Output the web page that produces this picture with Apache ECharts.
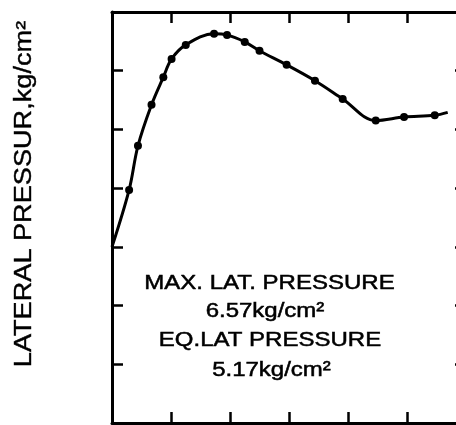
<!DOCTYPE html>
<html>
<head>
<meta charset="utf-8">
<script src="https://cdn.jsdelivr.net/npm/echarts@6/dist/echarts.min.js"></script>
<style>
html,body{margin:0;padding:0;background:#fff;}
#chart{width:456px;height:425px;}
</style>
</head>
<body>
<div id="chart"></div>
<script>
// Data (x in tick units, y in kg/cm2)
var xValues = [0, 0.29, 0.44, 0.67, 0.87, 1.01, 1.25, 1.73, 1.95, 2.25, 2.50, 2.96, 3.44, 3.91, 4.47, 4.95, 5.47, 5.69];
var yValues = [3.0, 3.97, 4.72, 5.42, 5.89, 6.20, 6.44, 6.63, 6.61, 6.49, 6.34, 6.10, 5.83, 5.52, 5.15, 5.21, 5.24, 5.29];
var markerShown = [false, true, true, true, true, true, true, true, true, true, true, true, true, true, true, true, true, false];
var yAxisTitle = 'LATERAL PRESSUR,kg/cm\u00B2';
var noteLines = ['MAX. LAT. PRESSURE', '6.57kg/cm\u00B2', 'EQ.LAT PRESSURE', '5.17kg/cm\u00B2'];
var xRange = [0, 6];
var yRange = [0, 7];

var FONT = '"Liberation Sans", Arial, Helvetica, sans-serif';
var chart = echarts.init(document.getElementById('chart'), null, {renderer: 'canvas'});

var seriesData = xValues.map(function (x, i) {
  var item = {value: [x, yValues[i]]};
  if (!markerShown[i]) { item.symbol = 'none'; }
  return item;
});

function axisCommon(extra) {
  var base = {
    type: 'value',
    axisLine: {show: true, onZero: false, lineStyle: {color: '#000', width: 3}},
    axisTick: {show: true, inside: true, length: 11, lineStyle: {color: '#000', width: 2.5}},
    axisLabel: {show: false},
    splitLine: {show: false}
  };
  for (var k in extra) base[k] = extra[k];
  return base;
}

var notePos = [[269.5, 283], [265, 311.5], [270, 340], [271.5, 370]];
var graphics = noteLines.map(function (t, i) {
  return {
    type: 'text',
    x: notePos[i][0],
    y: notePos[i][1],
    scaleX: 1.2,
    style: {text: t, x: 0, y: 0, align: 'center', verticalAlign: 'middle',
      font: '20px ' + FONT, fill: '#000', stroke: '#000', lineWidth: 0.5}
  };
});
graphics.push({
  type: 'text',
  x: 25,
  y: 194,
  rotation: Math.PI / 2,
  scaleX: 1.18,
  style: {text: yAxisTitle, x: 0, y: 0, align: 'center', verticalAlign: 'middle',
    font: '23px ' + FONT, fill: '#000', stroke: '#000', lineWidth: 0.4}
});

chart.setOption({
  animation: false,
  backgroundColor: '#fff',
  grid: {left: 112, top: 12, width: 354, height: 411, containLabel: false, outerBoundsMode: 'none'},
  xAxis: [
    axisCommon({min: xRange[0], max: xRange[1], interval: 1, position: 'bottom'}),
    axisCommon({min: xRange[0], max: xRange[1], interval: 1, position: 'top'})
  ],
  yAxis: [
    axisCommon({min: yRange[0], max: yRange[1], interval: 1, position: 'left'}),
    axisCommon({min: yRange[0], max: yRange[1], interval: 1, position: 'right'})
  ],
  series: [{
    type: 'line',
    data: seriesData,
    smooth: 0.35,
    symbol: 'circle',
    symbolSize: 8,
    lineStyle: {color: '#000', width: 3},
    itemStyle: {color: '#000'},
    xAxisIndex: 0,
    yAxisIndex: 0
  }],
  graphic: graphics
});
</script>
</body>
</html>
